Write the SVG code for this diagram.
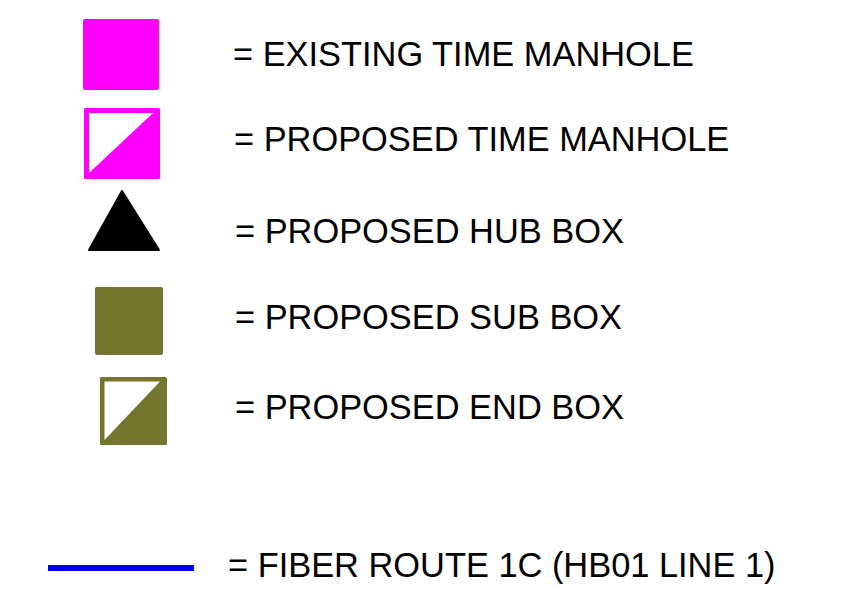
<svg xmlns="http://www.w3.org/2000/svg" width="848" height="593" viewBox="0 0 848 593">
  <style>
    .lbl { font-family: "Liberation Sans", Arial, Helvetica, sans-serif; font-size: 34.4px; fill: #000000; }
    .mag { fill: #FF00FF; }
    .olv { fill: #75752F; }
    .wht { fill: #FFFFFF; }
  </style>
  <rect x="0" y="0" width="848" height="593" fill="#FFFFFF"/>
  <g id="existing-time-manhole">
    <rect class="mag" x="83" y="19" width="76" height="71" rx="2"/>
    <text class="lbl" x="233" y="66">= EXISTING TIME MANHOLE</text>
  </g>
  <g id="proposed-time-manhole">
    <rect class="mag" x="84" y="108" width="76" height="71" rx="1.5"/>
    <polygon class="wht" points="89,113 153,113 89,173"/>
    <text class="lbl" x="234" y="151">= PROPOSED TIME MANHOLE</text>
  </g>
  <g id="proposed-hub-box">
    <polygon points="122,191 159,250 89,250" fill="#000000" stroke="#000000" stroke-width="2" stroke-linejoin="round"/>
    <text class="lbl" x="235" y="243">= PROPOSED HUB BOX</text>
  </g>
  <g id="proposed-sub-box">
    <rect class="olv" x="95" y="287" width="68" height="68" rx="2"/>
    <text class="lbl" x="235" y="329">= PROPOSED SUB BOX</text>
  </g>
  <g id="proposed-end-box">
    <rect class="olv" x="100" y="377" width="67" height="68" rx="1.5"/>
    <polygon class="wht" points="104.5,381.5 160,381.5 104.5,440"/>
    <text class="lbl" x="235" y="419">= PROPOSED END BOX</text>
  </g>
  <g id="fiber-route">
    <line x1="48" y1="568" x2="194" y2="568" stroke="#0000FF" stroke-width="6"/>
    <text class="lbl" x="228" y="577">= FIBER ROUTE 1C (HB01 LINE 1)</text>
  </g>
</svg>
